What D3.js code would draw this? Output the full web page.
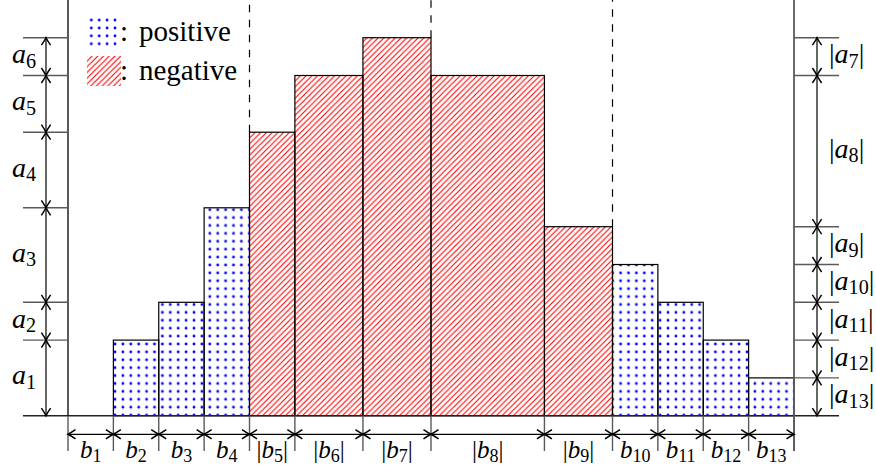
<!DOCTYPE html>
<meta charset="utf-8">
<style>
  body { margin: 0; background: #fff; }
  svg { display: block; }
</style>
<body>
<div id="chart"></div>
<script src="https://d3js.org/d3.v7.js"></script>
<script>
  const width = 876;
  const height = 474;
  const serif = "'Liberation Serif', 'DejaVu Serif', 'Times New Roman', Times, serif";

  // bar widths (in units) and heights, left to right
  const barWidths = [1, 1, 1, 1, 1, 1.5, 1.5, 2.5, 1.5, 1, 1, 1, 1];
  const barHeights = [0, 2, 3, 5.5, 7.5, 9, 10, 9, 5, 4, 3, 2, 1];
  const barSigns = ["positive", "positive", "positive", "positive", "negative", "negative",
                    "negative", "negative", "negative", "positive", "positive", "positive", "positive"];

  const bottomLabels = ["b_1", "b_2", "b_3", "b_4", "|b_5|", "|b_6|", "|b_7|", "|b_8|", "|b_9|",
                        "b_10", "b_11", "b_12", "b_13"];
  const leftLabels = ["a_1", "a_2", "a_3", "a_4", "a_5", "a_6"];
  const rightLabels = ["|a_7|", "|a_8|", "|a_9|", "|a_10|", "|a_11|", "|a_12|", "|a_13|"];
  const legendItems = ["positive", "negative"];

  // edges of the bars in units
  const edges = [0];
  barWidths.forEach(w => edges.push(edges[edges.length - 1] + w));
  const total = edges[edges.length - 1];
  const peak = barHeights.indexOf(d3.max(barHeights));

  const x = d3.scaleLinear().domain([0, total]).range([68, 794]);
  const y = d3.scaleLinear().domain([0, d3.max(barHeights)]).range([415.7, 37.7]);

  const svg = d3.select("#chart").append("svg")
    .attr("width", width)
    .attr("height", height)
    .attr("font-family", serif);

  const defs = svg.append("defs");

  // blue dots
  const dots = defs.append("pattern")
    .attr("id", "dots")
    .attr("patternUnits", "userSpaceOnUse")
    .attr("x", 111.05).attr("y", 340.05)
    .attr("width", 7.9).attr("height", 7.9);
  dots.append("circle")
    .attr("cx", 3.95).attr("cy", 3.95).attr("r", 1.4)
    .attr("fill", "#0000ff");

  // red hatch
  const h = 5.7;
  const hatch = defs.append("pattern")
    .attr("id", "hatch")
    .attr("patternUnits", "userSpaceOnUse")
    .attr("width", h).attr("height", h);
  hatch.append("path")
    .attr("d", `M0,${h} L${h},0 M-1,1 L1,-1 M${h - 1},${h + 1} L${h + 1},${h - 1}`)
    .attr("stroke", "#ff0000")
    .attr("stroke-width", 1.1)
    .attr("fill", "none");

  const fillFor = s => s === "positive" ? "url(#dots)" : "url(#hatch)";

  // arrow tip
  defs.append("marker")
    .attr("id", "tip")
    .attr("viewBox", "-10 -7 12 14")
    .attr("markerUnits", "userSpaceOnUse")
    .attr("markerWidth", 12).attr("markerHeight", 14)
    .attr("refX", 0).attr("refY", 0)
    .attr("orient", "auto-start-reverse")
    .append("path")
    .attr("d", "M-7.5,-4.6 Q-2.5,-1.2 0,0 Q-2.5,1.2 -7.5,4.6")
    .attr("fill", "none")
    .attr("stroke", "#000")
    .attr("stroke-width", 1.5);

  // math-like label: optional bars, italic letter, subscript
  function mathLabel(g, str, size, anchor) {
    const m = str.match(/^(\|?)([a-z])_(\d+)(\|?)$/);
    const t = g.append("text")
      .attr("font-family", serif)
      .attr("font-size", size)
      .attr("text-anchor", anchor);
    if (m[1]) t.append("tspan").text("|");
    t.append("tspan").attr("font-style", "italic").text(m[2]);
    t.append("tspan").attr("font-size", size * 0.72).attr("dy", size * 0.16).text(m[3]);
    if (m[4]) t.append("tspan").attr("dy", -size * 0.16).text("|");
    return t;
  }

  // dashed guide lines, drawn upward from the bar top
  const dashEdges = [4, 7, 9];
  svg.selectAll("line.guide")
    .data(dashEdges)
    .join("line")
    .attr("class", "guide")
    .attr("x1", d => x(edges[d])).attr("x2", d => x(edges[d]))
    .attr("y1", d => y(Math.max(barHeights[d - 1], barHeights[d])))
    .attr("y2", 0)
    .attr("stroke", "#000")
    .attr("stroke-width", 1.2)
    .attr("stroke-dasharray", "7.5 7.5");

  // bars
  const bars = barHeights.map((v, i) => ({v, i, s: barSigns[i]})).filter(d => d.v > 0);
  svg.selectAll("rect.bar")
    .data(bars)
    .join("rect")
    .attr("class", "bar")
    .attr("x", d => x(edges[d.i]))
    .attr("y", d => y(d.v))
    .attr("width", d => x(edges[d.i + 1]) - x(edges[d.i]))
    .attr("height", d => y(0) - y(d.v))
    .attr("fill", d => fillFor(d.s))
    .attr("stroke", "#000")
    .attr("stroke-width", 1.2);

  const gray = "#5a5a5a";

  // baseline
  svg.append("line")
    .attr("x1", 23).attr("x2", 839)
    .attr("y1", y(0)).attr("y2", y(0))
    .attr("stroke", "#222").attr("stroke-width", 1.4);

  // bottom ticks below the baseline
  svg.selectAll("line.btick")
    .data(edges)
    .join("line")
    .attr("class", "btick")
    .attr("x1", d => x(d)).attr("x2", d => x(d))
    .attr("y1", y(0)).attr("y2", 451)
    .attr("stroke", gray).attr("stroke-width", 1.4);

  // left frame line (black) and right frame line (gray)
  svg.append("line")
    .attr("x1", x(0)).attr("x2", x(0))
    .attr("y1", 0).attr("y2", y(0))
    .attr("stroke", "#000").attr("stroke-width", 1.3);
  svg.append("line")
    .attr("x1", x(total)).attr("x2", x(total))
    .attr("y1", 0).attr("y2", 451)
    .attr("stroke", gray).attr("stroke-width", 1.8);

  // bottom width arrows
  const bottomY = 434.3;
  svg.selectAll("line.barrow")
    .data(bottomLabels)
    .join("line")
    .attr("class", "barrow")
    .attr("x1", (d, i) => x(edges[i])).attr("x2", (d, i) => x(edges[i + 1]))
    .attr("y1", bottomY).attr("y2", bottomY)
    .attr("stroke", "#000").attr("stroke-width", 1.2)
    .attr("marker-start", "url(#tip)").attr("marker-end", "url(#tip)");

  const bottomG = svg.append("g");
  bottomLabels.forEach((lab, i) => {
    mathLabel(bottomG, lab, 25, "middle")
      .attr("x", (x(edges[i]) + x(edges[i + 1])) / 2)
      .attr("y", 458);
  });

  // left height steps
  const leftLevels = barHeights.slice(0, peak + 1);
  svg.selectAll("line.ltick")
    .data(leftLevels.slice(1))
    .join("line")
    .attr("class", "ltick")
    .attr("x1", 23).attr("x2", x(0))
    .attr("y1", d => y(d)).attr("y2", d => y(d))
    .attr("stroke", gray).attr("stroke-width", 1.4);

  svg.selectAll("line.larrow")
    .data(leftLabels)
    .join("line")
    .attr("class", "larrow")
    .attr("x1", 46).attr("x2", 46)
    .attr("y1", (d, i) => y(leftLevels[i])).attr("y2", (d, i) => y(leftLevels[i + 1]))
    .attr("stroke", "#000").attr("stroke-width", 1.2)
    .attr("marker-start", "url(#tip)").attr("marker-end", "url(#tip)");

  const leftG = svg.append("g");
  leftLabels.forEach((lab, i) => {
    mathLabel(leftG, lab, 28, "end")
      .attr("x", 36)
      .attr("y", (y(leftLevels[i]) + y(leftLevels[i + 1])) / 2 + 6.5);
  });

  // right height steps
  const rightLevels = barHeights.slice(peak).concat([0]);
  svg.selectAll("line.rtick")
    .data(rightLevels.slice(0, -1))
    .join("line")
    .attr("class", "rtick")
    .attr("x1", x(total)).attr("x2", 839)
    .attr("y1", d => y(d)).attr("y2", d => y(d))
    .attr("stroke", gray).attr("stroke-width", 1.4);

  svg.selectAll("line.rarrow")
    .data(rightLabels)
    .join("line")
    .attr("class", "rarrow")
    .attr("x1", 817).attr("x2", 817)
    .attr("y1", (d, i) => y(rightLevels[i])).attr("y2", (d, i) => y(rightLevels[i + 1]))
    .attr("stroke", "#000").attr("stroke-width", 1.2)
    .attr("marker-start", "url(#tip)").attr("marker-end", "url(#tip)");

  const rightG = svg.append("g");
  rightLabels.forEach((lab, i) => {
    mathLabel(rightG, lab, 28, "start")
      .attr("x", 829)
      .attr("y", (y(rightLevels[i]) + y(rightLevels[i + 1])) / 2 + 6.5);
  });

  // legend
  const legend = svg.append("g");
  legendItems.forEach((name, i) => {
    const top = i === 0 ? 17 : 56;
    legend.append("rect")
      .attr("x", 87).attr("y", top)
      .attr("width", 34).attr("height", 30)
      .attr("fill", fillFor(name));
    legend.append("text")
      .attr("font-family", serif)
      .attr("x", 120).attr("y", top + 24)
      .attr("font-size", 29)
      .text(":");
    legend.append("text")
      .attr("font-family", serif)
      .attr("x", 139).attr("y", top + 24)
      .attr("font-size", 29)
      .text(name);
  });
</script>
</body>
</html>
